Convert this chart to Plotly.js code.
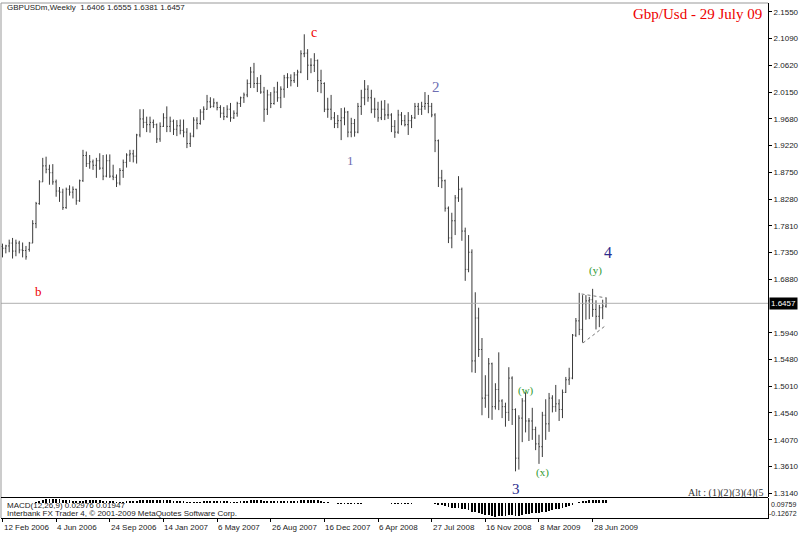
<!DOCTYPE html>
<html>
<head>
<meta charset="utf-8">
<script src="https://cdn.plot.ly/plotly-3.0.1.min.js"></script>
<style>html,body{margin:0;padding:0;background:#fff;}#chart{width:800px;height:536px;}</style>
</head>
<body>
<div id="chart"></div>
<script>
// ---- Weekly GBPUSD bars, first bar = week of 12 Feb 2006 ----
const startDate = '2006-02-12';
const opens = [
1.745,1.742,1.746,1.751,1.737,1.751,1.739,1.738,1.740,1.751,
1.785,1.820,1.858,1.886,1.880,1.874,1.858,1.842,1.840,1.813,
1.845,1.840,1.845,1.825,1.860,1.904,1.890,1.893,1.887,1.895,
1.882,1.868,1.895,1.868,1.866,1.856,1.878,1.892,1.905,1.907,
1.903,1.940,1.968,1.962,1.958,1.962,1.958,1.933,1.955,1.970,
1.955,1.964,1.950,1.956,1.948,1.945,1.925,1.938,1.966,1.960,
1.980,1.985,1.998,1.990,1.996,1.988,1.978,1.972,1.985,1.970,
1.978,1.995,2.005,2.010,2.030,2.050,2.030,2.030,2.015,1.985,
2.010,1.995,2.015,2.005,2.020,2.040,2.040,2.035,2.045,2.050,
2.082,2.083,2.062,2.062,2.070,2.035,2.030,1.985,1.985,1.970,
1.960,1.965,1.970,1.980,1.945,1.960,1.945,1.990,2.005,2.020,
2.005,1.985,1.985,1.970,1.985,1.975,1.975,1.955,1.945,1.975,
1.965,1.958,1.965,1.970,1.990,1.985,1.990,1.995,1.990,1.975,
1.930,1.865,1.860,1.812,1.760,1.790,1.830,1.845,1.772,1.705,
1.735,1.545,1.620,1.565,1.480,1.485,1.540,1.465,1.495,1.475,
1.465,1.455,1.515,1.460,1.375,1.445,1.475,1.440,1.440,1.425,
1.400,1.395,1.450,1.435,1.480,1.465,1.470,1.460,1.490,1.512,
1.515,1.590,1.615,1.600,1.645,1.650,1.652,1.635,1.623,1.638,
1.6406];
const highs = [
1.750,1.748,1.757,1.760,1.757,1.755,1.752,1.746,1.753,1.791,
1.823,1.861,1.900,1.902,1.888,1.889,1.862,1.849,1.846,1.848,
1.852,1.850,1.846,1.862,1.914,1.911,1.905,1.897,1.900,1.908,
1.905,1.906,1.906,1.888,1.871,1.882,1.897,1.908,1.914,1.914,
1.942,1.985,1.985,1.972,1.972,1.967,1.960,1.962,1.978,1.990,
1.972,1.967,1.966,1.967,1.967,1.952,1.944,1.971,1.971,1.985,
1.990,2.010,2.006,2.004,1.998,1.992,1.989,1.992,1.996,1.983,
1.998,2.007,2.014,2.037,2.059,2.066,2.041,2.045,2.024,2.019,
2.015,2.024,2.033,2.025,2.045,2.048,2.046,2.050,2.054,2.088,
2.116,2.090,2.074,2.083,2.072,2.054,2.032,2.005,2.010,1.980,
1.975,1.987,1.988,1.982,1.970,1.968,1.996,2.019,2.036,2.027,
2.019,2.005,1.998,2.000,2.001,1.995,1.978,1.966,1.984,1.980,
1.975,1.980,1.975,1.996,1.996,1.998,2.015,2.010,1.996,1.978,
1.932,1.879,1.862,1.815,1.804,1.835,1.868,1.848,1.778,1.765,
1.740,1.665,1.638,1.585,1.520,1.550,1.542,1.506,1.560,1.478,
1.472,1.534,1.518,1.462,1.450,1.480,1.490,1.445,1.463,1.430,
1.416,1.456,1.478,1.489,1.485,1.503,1.478,1.495,1.517,1.533,
1.592,1.620,1.664,1.660,1.660,1.657,1.671,1.651,1.643,1.652,
1.6555];
const lows = [
1.726,1.733,1.735,1.724,1.728,1.733,1.726,1.722,1.736,1.751,
1.777,1.818,1.858,1.873,1.853,1.853,1.832,1.823,1.809,1.811,
1.834,1.829,1.818,1.823,1.858,1.884,1.881,1.879,1.865,1.879,
1.861,1.866,1.865,1.861,1.849,1.852,1.865,1.883,1.893,1.892,
1.890,1.936,1.952,1.945,1.944,1.952,1.926,1.928,1.954,1.945,
1.945,1.940,1.938,1.941,1.936,1.917,1.919,1.936,1.950,1.958,
1.966,1.984,1.987,1.988,1.983,1.970,1.966,1.970,1.963,1.968,
1.972,1.989,1.996,2.006,2.022,2.022,2.015,2.012,1.963,1.975,
1.987,1.993,1.998,1.987,2.005,2.022,2.025,2.031,2.024,2.048,
2.076,2.036,2.048,2.050,2.015,2.013,1.980,1.970,1.966,1.952,
1.952,1.931,1.957,1.936,1.936,1.937,1.943,1.975,1.992,1.998,
1.978,1.970,1.963,1.966,1.966,1.968,1.945,1.935,1.942,1.957,
1.955,1.940,1.952,1.968,1.975,1.975,1.984,1.978,1.971,1.910,
1.849,1.847,1.806,1.751,1.742,1.765,1.823,1.755,1.685,1.700,
1.525,1.524,1.552,1.450,1.463,1.445,1.442,1.460,1.459,1.445,
1.430,1.440,1.433,1.352,1.355,1.403,1.420,1.405,1.407,1.389,
1.365,1.377,1.407,1.421,1.455,1.456,1.440,1.445,1.489,1.503,
1.513,1.587,1.590,1.577,1.617,1.618,1.622,1.600,1.604,1.618,
1.6381];
const closes = [
1.742,1.746,1.751,1.737,1.751,1.739,1.738,1.727,1.751,1.785,
1.820,1.858,1.886,1.880,1.874,1.858,1.842,1.840,1.813,1.845,
1.840,1.845,1.825,1.860,1.904,1.890,1.893,1.887,1.895,1.882,
1.868,1.895,1.868,1.866,1.856,1.878,1.892,1.905,1.907,1.903,
1.940,1.968,1.962,1.958,1.962,1.958,1.933,1.955,1.970,1.955,
1.964,1.950,1.956,1.948,1.945,1.925,1.938,1.966,1.960,1.980,
1.985,1.998,1.990,1.996,1.988,1.978,1.972,1.985,1.970,1.978,
1.995,2.005,2.010,2.030,2.050,2.030,2.030,2.015,1.985,2.010,
1.995,2.015,2.005,2.020,2.040,2.040,2.035,2.045,2.050,2.082,
2.083,2.062,2.062,2.070,2.035,2.030,1.985,1.985,1.970,1.960,
1.965,1.970,1.980,1.945,1.960,1.945,1.990,2.005,2.020,2.005,
1.985,1.985,1.970,1.985,1.975,1.975,1.955,1.945,1.975,1.965,
1.958,1.965,1.970,1.990,1.985,1.990,1.995,1.990,1.975,1.930,
1.865,1.860,1.812,1.760,1.790,1.830,1.845,1.772,1.705,1.735,
1.545,1.620,1.565,1.480,1.485,1.540,1.465,1.495,1.475,1.465,
1.455,1.515,1.460,1.375,1.445,1.475,1.440,1.440,1.425,1.400,
1.395,1.450,1.435,1.480,1.465,1.470,1.460,1.490,1.512,1.515,
1.590,1.615,1.600,1.645,1.650,1.652,1.635,1.623,1.638,1.641,
1.6457];
// MACD(12,26,9) main line
const macd = [
-0.004,-0.004,-0.003,-0.003,-0.002,-0.002,-0.002,-0.003,-0.002,0.002,
0.009,0.018,0.028,0.034,0.037,0.040,0.038,0.035,0.029,0.027,
0.024,0.022,0.018,0.018,0.022,0.024,0.025,0.025,0.025,0.024,
0.021,0.021,0.018,0.015,0.012,0.012,0.013,0.014,0.015,0.015,
0.019,0.025,0.029,0.030,0.031,0.030,0.027,0.026,0.026,0.024,
0.023,0.020,0.018,0.016,0.014,0.010,0.009,0.010,0.010,0.012,
0.014,0.017,0.018,0.019,0.019,0.017,0.015,0.014,0.012,0.011,
0.012,0.014,0.016,0.019,0.023,0.024,0.025,0.024,0.019,0.018,
0.016,0.015,0.014,0.014,0.016,0.018,0.019,0.020,0.021,0.025,
0.028,0.028,0.027,0.027,0.024,0.020,0.013,0.008,0.003,-0.002,
-0.005,-0.007,-0.007,-0.010,-0.011,-0.012,-0.010,-0.006,-0.002,-0.001,
-0.002,-0.002,-0.003,-0.003,-0.003,-0.003,-0.005,-0.007,-0.006,-0.006,
-0.006,-0.006,-0.005,-0.003,-0.002,-0.001,0.000,0.000,-0.001,-0.005,
-0.014,-0.021,-0.030,-0.040,-0.045,-0.046,-0.045,-0.050,-0.058,-0.062,
-0.078,-0.085,-0.093,-0.104,-0.111,-0.112,-0.120,-0.1267,-0.122,-0.118,
-0.116,-0.112,-0.110,-0.118,-0.115,-0.108,-0.102,-0.097,-0.093,-0.091,
-0.089,-0.082,-0.077,-0.068,-0.062,-0.056,-0.051,-0.044,-0.036,-0.028,
-0.015,-0.002,0.005,0.014,0.020,0.024,0.027,0.026,0.027,0.028,
0.02976];
const macdSignal = 0.01947;
const macdPanelMax = '0.09759';
const macdPanelMin = '-0.12672';

// Axis tick labels
const priceTicks = [2.1550,2.1090,2.0620,2.0150,1.9680,1.9220,1.8750,1.8280,1.7810,1.7350,1.6880,1.5940,1.5480,1.5010,1.4540,1.4070,1.3610,1.3140];
const dateTickVals = ['2006-02-12','2006-06-04','2006-09-24','2007-01-14','2007-05-06','2007-08-26','2007-12-16','2008-04-06','2008-07-27','2008-11-16','2009-03-08','2009-06-28'];
const dateTickText = ['12 Feb 2006','4 Jun 2006','24 Sep 2006','14 Jan 2007','6 May 2007','26 Aug 2007','16 Dec 2007','6 Apr 2008','27 Jul 2008','16 Nov 2008','8 Mar 2009','28 Jun 2009'];

// Wave labels (bar index position, price position)
const waveText  = ['c','b','1','2','3','4','(w)','(x)','(y)'];
const waveIdx   = [92.9,10.6,103.9,129.3,153.1,180.6,156.1,160.9,177.0];
const wavePrice = [2.1183,1.6655,1.8962,2.0239,1.3211,1.7354,1.4931,1.3508,1.7039];
const waveColor = ['#ee0000','#ee0000','#6e6eb2','#6e6eb2','#2b2b8c','#2b2b8c','#2f9a2f','#2f9a2f','#2f9a2f'];
const waveSize  = [14,13,13,15,15,16,11,11,11];

// Drawn triangle trendlines
const upperTrendIdx = [172.7,180.2], upperTrendPrice = [1.662,1.655];
const lowerTrendIdx = [173.1,179.7], lowerTrendPrice = [1.5763,1.6060];

// ---- helpers ----
const WEEK = 7*86400000;
const t0 = Date.parse(startDate + 'T00:00:00Z');
function d(f){ return new Date(t0 + f*WEEK).toISOString().replace('T',' ').replace('Z',''); }
const dates = closes.map((_, i) => d(i));
const W = 800, H = 536, ML = 1, MR = 32, MT = 3, MB = 18;
const PW = W - ML - MR, PH = H - MT - MB;
const ax = px => (px - ML) / PW;
const ay = py => (H - MB - py) / PH;
const SANS = 'Liberation Sans, Arial, sans-serif';
const SERIF = 'Liberation Serif, Times New Roman, serif';
const n = closes.length;
const lastO = opens[n-1], lastH = highs[n-1], lastL = lows[n-1], lastC = closes[n-1];

const traces = [
  { type:'ohlc', x:dates, open:opens, high:highs, low:lows, close:closes,
    xaxis:'x', yaxis:'y', tickwidth:0.3, hoverinfo:'skip', showlegend:false,
    increasing:{line:{color:'#3a3a3a', width:1}}, decreasing:{line:{color:'#3a3a3a', width:1}} },
  { type:'scatter', mode:'lines', x:upperTrendIdx.map(d), y:upperTrendPrice, xaxis:'x', yaxis:'y',
    line:{color:'#777', width:1, dash:'dot'}, hoverinfo:'skip', showlegend:false },
  { type:'scatter', mode:'lines', x:lowerTrendIdx.map(d), y:lowerTrendPrice, xaxis:'x', yaxis:'y',
    line:{color:'#777', width:1, dash:'dot'}, hoverinfo:'skip', showlegend:false },
  { type:'bar', x:dates, y:macd, xaxis:'x2', yaxis:'y2', width:WEEK*0.55,
    marker:{color:'#000', line:{width:0}}, hoverinfo:'skip', showlegend:false }
];

const xr = [d(-0.447), d(228.3)];
const annotations = [];
function txt(text, px, py, opts){
  annotations.push(Object.assign({xref:'paper', yref:'paper', x:ax(px), y:ay(py), text:text,
    showarrow:false, xanchor:'left', yanchor:'middle', font:{family:SANS, size:8, color:'#222'}}, opts||{}));
}
function lastMacdStr(){ return macd[n-1].toFixed(5); }
txt('GBPUSDm,Weekly  ' + lastO.toFixed(4) + ' ' + lastH.toFixed(4) + ' ' + lastL.toFixed(4) + ' ' + lastC.toFixed(4), 5, 8);
txt('Gbp/Usd - 29 July 09', 764, 14, {xanchor:'right', font:{family:SERIF, size:15, color:'#ee0000'}});
txt('Alt : (1)(2)(3)(4)(5', 766, 493, {xanchor:'right', font:{family:SERIF, size:10, color:'#333'}});
txt('MACD(12,26,9) ' + lastMacdStr() + ' ' + macdSignal.toFixed(5), 5, 505);
txt('Interbank FX Trader 4, \u00a9 2001-2009 MetaQuotes Software Corp.', 5, 513);
txt(macdPanelMax, 769, 504, {font:{family:SANS, size:7, color:'#222'}});
txt(macdPanelMin, 767, 513, {font:{family:SANS, size:7, color:'#222'}});
dateTickVals.forEach((v, k) => {
  annotations.push({xref:'x2', yref:'paper', x:v, y:ay(527), text:dateTickText[k], showarrow:false,
    xanchor:'left', yanchor:'middle', xshift:-1, font:{family:SANS, size:8, color:'#222'}});
});
waveText.forEach((t, k) => {
  annotations.push({xref:'x', yref:'y', x:d(waveIdx[k]), y:wavePrice[k], text:t, showarrow:false,
    xanchor:'center', yanchor:'middle', font:{family:SERIF, size:waveSize[k], color:waveColor[k]}});
});
annotations.push({xref:'paper', yref:'y', x:1, xshift:1, y:lastC, text:lastC.toFixed(4), showarrow:false,
  xanchor:'left', yanchor:'middle', bgcolor:'#000', borderpad:1, font:{family:SANS, size:8, color:'#fff'}});

const shapes = [
  {type:'line', xref:'paper', yref:'y', x0:0, x1:1, y0:lastC, y1:lastC, line:{color:'#b0b0b0', width:1}},
  {type:'line', xref:'paper', yref:'paper', x0:0, x1:1, y0:1, y1:1, line:{color:'#999', width:1}},
  {type:'line', xref:'paper', yref:'paper', x0:0, x1:0, y0:0, y1:1, line:{color:'#999', width:1}},
  {type:'line', xref:'paper', yref:'paper', x0:0, x1:1, y0:ay(497.5), y1:ay(497.5), line:{color:'#000', width:1}}
];

const layout = {
  width:W, height:H, margin:{l:ML, r:MR, t:MT, b:MB, pad:0},
  paper_bgcolor:'#fff', plot_bgcolor:'#fff', showlegend:false, hovermode:false,
  xaxis:{domain:[0,1], anchor:'y', type:'date', range:xr, rangeslider:{visible:false},
    showticklabels:false, ticks:'', showgrid:false, zeroline:false, showline:false, fixedrange:true},
  xaxis2:{domain:[0,1], anchor:'y2', type:'date', range:xr, rangeslider:{visible:false},
    tickvals:dateTickVals, ticks:'outside', ticklen:3, tickcolor:'#000', showticklabels:false,
    showgrid:false, zeroline:false, showline:true, linecolor:'#000', linewidth:1},
  yaxis:{domain:[ay(497), 1], anchor:'x', side:'right', range:[1.3071, 2.1707],
    tickvals:priceTicks, tickformat:'.4f', ticks:'outside', ticklen:3, tickcolor:'#000',
    showline:true, linecolor:'#000', linewidth:1, showgrid:false, zeroline:false,
    tickfont:{family:SANS, size:8, color:'#222'}},
  yaxis2:{domain:[0, ay(498)], anchor:'x2', side:'right', range:[-0.1358, 0.0452],
    showticklabels:false, ticks:'', showline:true, linecolor:'#000', linewidth:1,
    showgrid:false, zeroline:false},
  bargap:0, annotations:annotations, shapes:shapes
};
Plotly.newPlot('chart', traces, layout, {displayModeBar:false, staticPlot:true});
</script>
</body>
</html>
